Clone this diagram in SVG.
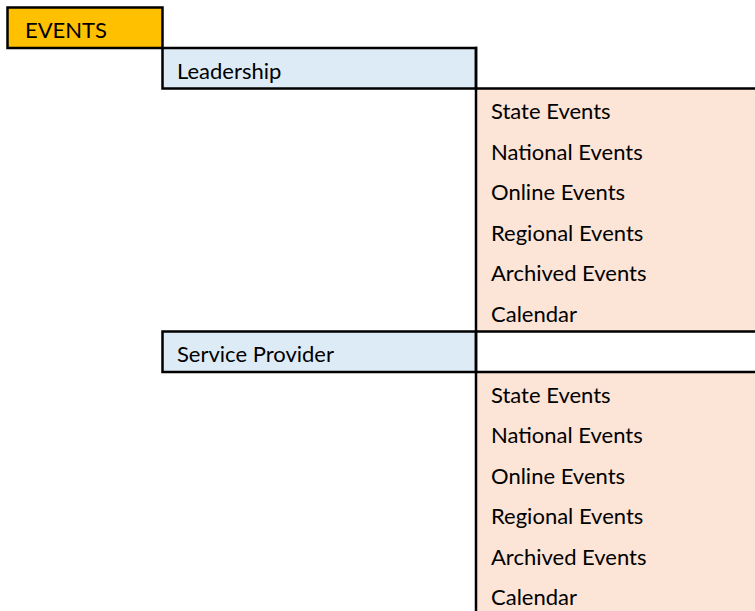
<svg xmlns="http://www.w3.org/2000/svg" width="755" height="611" viewBox="0 0 755 611">
<style>
.t{font-family:Lato,"Open Sans","Liberation Sans",sans-serif;font-size:22px;fill:#000}
.b{stroke:#000;stroke-width:2.5;fill:none;stroke-linecap:square}
</style>
<rect width="755" height="611" fill="#fff"/>
<g id="events">
<rect x="7.5" y="7.5" width="155" height="40.5" fill="#FFC000"/>
<text class="t" x="25" y="38">EVENTS</text>
</g>
<g id="leadership">
<rect x="162.5" y="48" width="313.5" height="40.5" fill="#DDEBF7"/>
<text class="t" x="177" y="78.5">Leadership</text>
</g>
<g id="leadership-events">
<rect x="476" y="88.5" width="279" height="243" fill="#FCE4D6"/>
<text class="t" x="491" y="119">State Events</text>
<text class="t" x="491" y="159.5">National Events</text>
<text class="t" x="491" y="200">Online Events</text>
<text class="t" x="491" y="240.5">Regional Events</text>
<text class="t" x="491" y="281">Archived Events</text>
<text class="t" x="491" y="321.5">Calendar</text>
</g>
<g id="service-provider">
<rect x="162.5" y="331.5" width="313.5" height="40.5" fill="#DDEBF7"/>
<text class="t" x="177" y="362">Service Provider</text>
</g>
<g id="service-provider-events">
<rect x="476" y="372" width="279" height="239" fill="#FCE4D6"/>
<text class="t" x="491" y="402.5">State Events</text>
<text class="t" x="491" y="443">National Events</text>
<text class="t" x="491" y="483.5">Online Events</text>
<text class="t" x="491" y="524">Regional Events</text>
<text class="t" x="491" y="564.5">Archived Events</text>
<text class="t" x="491" y="605">Calendar</text>
</g>
<g id="connectors">
<rect class="b" x="7.5" y="7.5" width="155" height="40.5"/>
<rect class="b" x="162.5" y="48" width="313.5" height="40.5"/>
<rect class="b" x="162.5" y="331.5" width="313.5" height="40.5"/>
<path class="b" d="M476 88.5H756M476 331.5H756M476 372H756M476 48V612"/>
</g>
</svg>
